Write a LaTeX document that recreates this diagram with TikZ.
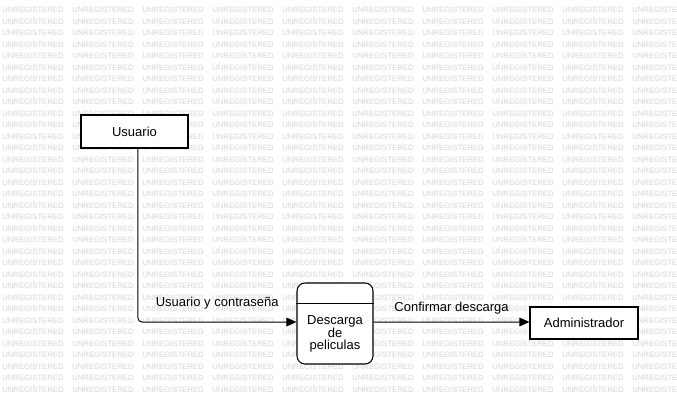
\documentclass[tikz,border=0pt]{standalone}
\usepackage{fontspec}
\setmainfont{Liberation Sans}
\usetikzlibrary{calc, arrows.meta}

\begin{document}
\begin{tikzpicture}[x=0.75pt, y=-0.75pt,
		box/.style = {draw, fill = white, line width = 0.8pt, minimum width = 80.25pt, minimum height = 24.75pt, inner sep = 0pt, font = \fontsize{9.75}{11}\selectfont},
		proc/.style = {draw, fill = white, line width = 0.8pt, rounded corners = 6pt, minimum width = 57pt, minimum height = 60.75pt, inner sep = 0pt},
		flow/.style = {line width = 0.75pt, rounded corners = 3pt, -{Triangle[length = 7.5pt, width = 6.5pt]}},
		lbl/.style = {inner sep = 0pt, font = \fontsize{9.75}{11}\selectfont},
		wm/.style = {anchor = west, inner sep = 0pt, text = black!17, font = \fontsize{5.8}{6}\selectfont}
	]
		\useasboundingbox (0, 0) rectangle (677, 404);
		
		% watermark
		\begin{scope}
			\clip (0, 0) rectangle (677, 404);
			\foreach \r in {0, ..., 33} {
				\foreach \c in {0, ..., 9} {
					\node [wm] at ({2 + 70*\c}, {10 + 11.5*\r}) {UNREGISTERED};
				}
			}
		\end{scope}
		
		\node [box] (usuario) at (134.5, 131.5) {Usuario};
		\node [proc] (descarga) at (335, 323.5) {};
		\node [box, minimum width = 81pt, minimum height = 24pt] (admin) at (584, 323) {Administrador};
		
		\draw [line width = 0.75pt] ($(descarga.north west) + (0, 21)$) -- ($(descarga.north east) + (0, 21)$);
		\node [lbl, align = center, font = \fontsize{9.75}{9.3}\selectfont] (descarga text) at ($(descarga.center) + (0, 10.5)$) {Descarga\\de\\peliculas};
		
		\draw [flow] ([xshift = 2.6pt] usuario.south) |- ([yshift = 1.1pt] descarga.west)
			node [lbl, pos = 0.75, yshift = 14.25pt] {Usuario y contraseña};
		\draw [flow] ([yshift = 1.1pt] descarga.east) -- ([yshift = 0.75pt] admin.west)
			node [lbl, midway, yshift = 10.5pt] {Confirmar descarga};
	\end{tikzpicture}
\end{document}
